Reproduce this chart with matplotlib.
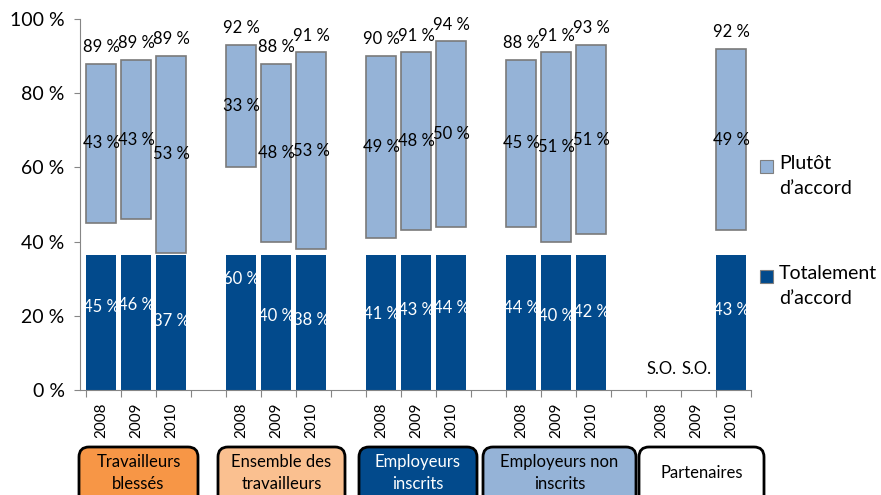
import numpy as np
import matplotlib
matplotlib.use("Agg")
import matplotlib.pyplot as plt
from matplotlib.patches import FancyBboxPatch, Rectangle

plt.rcParams["font.family"] = ["Lato", "DejaVu Sans"]

# data
groups = ["Travailleurs\nblessés", "Ensemble des\ntravailleurs", "Employeurs\ninscrits",
          "Employeurs non\ninscrits", "Partenaires"]
years = ["2008", "2009", "2010"]
totalement = [45, 46, 37, 60, 40, 38, 41, 43, 44, 44, 40, 42, np.nan, np.nan, 43]
plutot = [43, 43, 53, 33, 48, 53, 49, 48, 50, 45, 51, 51, np.nan, np.nan, 49]
total = [89, 89, 89, 92, 88, 91, 90, 91, 94, 88, 91, 93, np.nan, np.nan, 92]

dark = "#024A8C"
light = "#95B3D7"
box_colors = ["#F79646", "#FAC090", dark, light, "white"]
box_text_colors = ["black", "black", "white", "black", "black"]

# slot index of each bar (a blank slot between groups)
slots = np.array([g * 4 + k for g in range(len(groups)) for k in range(len(years))])
totalement = np.array(totalement, dtype=float)
plutot = np.array(plutot, dtype=float)
ok = ~np.isnan(totalement)

fig = plt.figure(figsize=(8.81, 4.95), dpi=100)
ax = fig.add_axes([80 / 881, 1 - 390 / 495, (751 - 80) / 881, (390 - 19) / 495])

left = slots - 0.5
w = 0.86
b_dark = ax.bar(left[ok], totalement[ok], width=w, align="edge", color=dark,
                edgecolor="none")
b_light = ax.bar(left[ok], plutot[ok], bottom=totalement[ok], width=w,
                 align="edge", color=light, edgecolor="#7A7A7A", linewidth=1.2)

# dark bars are cut at about 36 % in the original
clip = Rectangle((-5, 0), 40, 36.4, transform=ax.transData)
for p in b_dark:
    p.set_clip_path(clip)

for i, x in enumerate(left + w / 2):
    if np.isnan(totalement[i]):
        ax.text(x, 3.5, "S.O.", ha="center", va="bottom", fontsize=12)
        continue
    ax.text(x, totalement[i] / 2, f"{totalement[i]:.0f} %", ha="center", va="center",
            color="white", fontsize=12)
    ax.text(x, totalement[i] + plutot[i] / 2, f"{plutot[i]:.0f} %", ha="center",
            va="center", color="black", fontsize=12)
    ax.annotate(f"{total[i]:.0f} %", (x, totalement[i] + plutot[i]), xytext=(0, 12),
                textcoords="offset points", ha="center", va="center", fontsize=12)

ax.set_xlim(-0.67, 18.5)
ax.set_ylim(0, 100)
ax.set_yticks(np.arange(0, 101, 20))
ax.set_yticklabels([f"{v} %" for v in range(0, 101, 20)], fontsize=14)
ax.tick_params(axis="y", length=4, color="#868686", pad=7)

ax.set_xticks(np.arange(-0.5, 19, 1))
ax.set_xticklabels([])
ax.tick_params(axis="x", which="major", length=5, color="#868686")
ax.set_xticks(left + w / 2, minor=True)
ax.set_xticklabels(years * len(groups), minor=True, rotation=90, fontsize=11)
ax.tick_params(axis="x", which="minor", length=0, pad=9)

for s in ["top", "right"]:
    ax.spines[s].set_visible(False)
ax.spines["left"].set_color("#868686")
ax.spines["bottom"].set_color("#868686")

# group boxes under the axis (pixel extents)
box_px = [(79, 198), (218, 345), (359, 477), (483, 636), (639, 764)]
for (x0, x1), name, fc, tc in zip(box_px, groups, box_colors, box_text_colors):
    bx = FancyBboxPatch((x0 / 100, -0.2), (x1 - x0) / 100, 0.68,
                        boxstyle="round,pad=0,rounding_size=0.1",
                        transform=fig.dpi_scale_trans, facecolor=fc,
                        edgecolor="black", linewidth=2, clip_on=False)
    fig.add_artist(bx)
    fig.text((x0 + x1) / 2 / 881, 1 - 473 / 495, name, ha="center", va="center",
             color=tc, fontsize=12, linespacing=1.4)

# legend
for yc, fc, lab in [(166, light, "Plutôt\nd’accord"), (276, dark, "Totalement\nd’accord")]:
    sq = Rectangle((760 / 881, 1 - (yc + 7) / 495), 13 / 881, 13 / 495,
                   transform=fig.transFigure, facecolor=fc, edgecolor="#7F7F7F",
                   linewidth=0.8)
    fig.add_artist(sq)
    fig.text(779 / 881, 1 - (yc - 11) / 495, lab, ha="left", va="top", fontsize=14,
             linespacing=1.55)

fig.savefig("out.png", dpi=100)
